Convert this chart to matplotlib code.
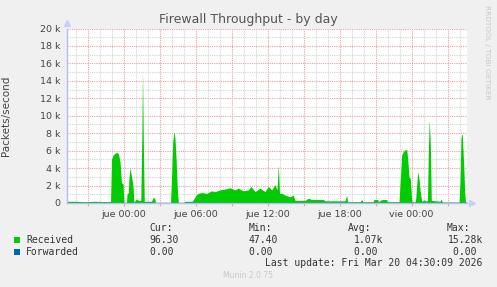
import numpy as np
import matplotlib
matplotlib.use("Agg")
import matplotlib.pyplot as plt
from matplotlib.patches import Rectangle
from matplotlib.ticker import FixedLocator, MultipleLocator

# hours relative to "jue 00:00"
hours = [-4.71, -4.04, -3.21, -2.38, -1.29, -1.08, -1.0, -0.875, -0.71, -0.54,
         -0.42, -0.29, -0.17, -0.04, 0.03, 0.25, 0.29, 0.4, 0.46, 0.54,
         0.67, 0.79, 0.86, 1.1, 1.21, 1.44, 1.53, 1.58, 1.65, 1.73,
         2.33, 2.46, 2.58, 2.67, 3.92, 4.02, 4.1, 4.21, 4.29, 4.38,
         4.48, 4.57, 5.04, 5.08, 5.73, 5.875, 6.04, 6.23, 6.52, 6.93,
         7.35, 7.625, 8.04, 8.46, 8.875, 9.29, 9.57, 9.98, 10.4, 10.625,
         10.96, 11.375, 11.79, 12.07, 12.35, 12.625, 12.79, 12.9, 13.0, 13.21,
         13.46, 13.875, 14.15, 14.29, 15.125, 15.4, 15.68, 15.96, 16.65, 16.79,
         18.46, 18.6, 18.67, 19.71, 19.85, 19.96, 20.79, 20.875, 21.17, 21.25,
         21.54, 21.92, 22.0, 22.96, 23.04, 23.18, 23.32, 23.46, 23.6, 23.68,
         23.79, 23.9, 24.02, 24.29, 24.35, 24.52, 24.625, 24.73, 24.85, 25.07,
         25.21, 25.33, 25.4, 25.48, 25.57, 25.65, 26.375, 26.46, 26.58, 27.96,
         28.04, 28.125, 28.18, 28.23, 28.35, 28.43, 28.5, 28.625]

# packets/second, in thousands
received_k = [0.2, 0.2, 0.15, 0.2, 0.15, 0.2, 5.0, 5.5, 5.7, 5.8,
              5.6, 4.7, 2.3, 2.2, 0.05, 0.05, 1.0, 1.2, 3.0, 4.0,
              3.0, 2.0, 0.1, 0.5, 0.3, 0.3, 8.0, 15.2, 7.0, 0.2,
              0.2, 0.6, 0.6, 0.05, 0.05, 3.6, 7.0, 8.2, 7.4, 5.1,
              1.7, 0.05, 0.05, 0.2, 0.2, 0.5, 0.9, 1.1, 1.2, 1.1,
              1.4, 1.3, 1.5, 1.6, 1.75, 1.5, 1.7, 1.4, 1.5, 1.9,
              1.3, 1.7, 1.3, 1.9, 1.5, 2.1, 1.5, 4.35, 1.1, 1.1,
              0.9, 0.7, 0.9, 0.3, 0.3, 0.55, 0.4, 0.4, 0.4, 0.25,
              0.25, 0.9, 0.15, 0.15, 0.4, 0.15, 0.15, 0.4, 0.4, 0.15,
              0.4, 0.4, 0.15, 0.15, 2.0, 5.5, 5.9, 6.1, 6.1, 5.1,
              3.0, 2.8, 0.2, 0.1, 0.5, 3.6, 2.8, 1.3, 0.2, 0.35,
              0.2, 0.3, 5.5, 9.6, 6.6, 0.3, 0.2, 0.45, 0.1, 0.1,
              2.4, 7.4, 7.9, 7.8, 4.4, 1.3, 0.1, 0.1]

forwarded_k = [0.0] * len(hours)

y_ticks = [0, 2, 4, 6, 8, 10, 12, 14, 16, 18, 20]
y_labels = ["0"] + ["%d k" % v for v in y_ticks[1:]]
x_major = [-3, 0, 3, 6, 9, 12, 15, 18, 21, 24, 27]
x_labels = {0: "jue 00:00", 6: "jue 06:00", 12: "jue 12:00",
            18: "jue 18:00", 24: "vie 00:00"}

legend_names = ["Received", "Forwarded"]
legend_colors = ["#00CC00", "#0066B3"]
cur_vals = ["96.30", "0.00"]
min_vals = ["47.40", "0.00"]
avg_vals = ["1.07k", "0.00"]
max_vals = ["15.28k", "0.00"]

W, H = 497, 287
bg = "#F0F0F0"
txt = "#333333"


def px(x, y):
    return x / W, 1 - y / H


fig = plt.figure(figsize=(W / 100, H / 100), dpi=100, facecolor=bg)
ax = fig.add_axes([67 / W, 1 - 203 / H, 400 / W, 174.5 / H])
ax.set_facecolor("white")

ax.fill_between(hours, received_k, color="#00CC00", lw=0, zorder=2)
ax.plot(hours, forwarded_k, color="#0066B3", lw=1, zorder=3)

ax.set_xlim(-4.71, 28.625)
ax.set_ylim(0, 20)

ax.yaxis.set_major_locator(FixedLocator(y_ticks))
ax.set_yticklabels(y_labels)
ax.yaxis.set_minor_locator(MultipleLocator(1))
ax.xaxis.set_major_locator(FixedLocator(x_major))
ax.set_xticklabels([x_labels.get(v, "") for v in x_major])
ax.xaxis.set_minor_locator(MultipleLocator(1))

ax.set_axisbelow(True)
ax.grid(which="major", color="#E6A3A3", ls=(0, (1, 1)), lw=0.8)
ax.grid(which="minor", color="#D4D4D4", ls=(0, (1, 1)), lw=0.8)

ax.tick_params(which="major", labelsize=6.8, labelcolor="#444444",
               length=2, color="#E6A3A3", pad=3)
ax.tick_params(which="minor", length=0)
ax.tick_params(axis="y", length=0, pad=5)

for s in ["top", "right"]:
    ax.spines[s].set_visible(False)
for s in ["left", "bottom"]:
    ax.spines[s].set_color("#B4BCF0")
    ax.spines[s].set_linewidth(1)
    ax.spines[s].set_zorder(5)

# axis arrows
ax.plot([0], [1.03], marker="^", ms=5, color="#C8D0F8", transform=ax.transAxes,
        clip_on=False, zorder=6)
ax.plot([1.012], [0], marker=">", ms=5, color="#C8D0F8", transform=ax.transAxes,
        clip_on=False, zorder=6)

ax.set_ylabel("Packets/second", fontsize=7.5, color="#444444", labelpad=8)
ax.yaxis.set_label_coords(-(67 - 10.5) / 400, 0.5)

fig.text(*px(248.5, 19), "Firewall Throughput - by day", ha="center",
         va="center", fontsize=9, color="#555555")
fig.text(*px(487, 5), "RRDTOOL / TOBI OETIKER", rotation=270, ha="center",
         va="top", fontsize=5.3, color="#C8C8C8")

# legend block
mono = dict(family="DejaVu Sans Mono", fontsize=7, color=txt, va="center")
for x, lab in zip([149.7, 248.7, 347.7, 446.7], ["Cur:", "Min:", "Avg:", "Max:"]):
    fig.text(*px(x, 227.7), lab, ha="left", **mono)

rows_y = [239.7, 251.7]
for i in range(2):
    y = rows_y[i]
    fig.patches.append(Rectangle(px(14, y + 3), 6 / W, 6 / H,
                                 transform=fig.transFigure,
                                 color=legend_colors[i], lw=0))
    fig.text(*px(26.3, y), legend_names[i], ha="left", **mono)
    fig.text(*px(179, y), cur_vals[i] + ("" if i == 0 else " "), ha="right", **mono)
    fig.text(*px(278.3, y), min_vals[i] + ("" if i == 0 else " "), ha="right", **mono)
    fig.text(*px(383.3, y), avg_vals[i] + ("" if avg_vals[i].endswith("k") else " "),
             ha="right", **mono)
    fig.text(*px(482.7, y), max_vals[i] + ("" if max_vals[i].endswith("k") else " "),
             ha="right", **mono)

fig.text(*px(482.7, 263.3), "Last update: Fri Mar 20 04:30:09 2026", ha="right", **mono)
fig.text(*px(247.7, 276), "Munin 2.0.75", ha="center", va="center",
         fontsize=5.5, color="#C8C8C8")

fig.savefig("out.png", dpi=100, facecolor=bg)
